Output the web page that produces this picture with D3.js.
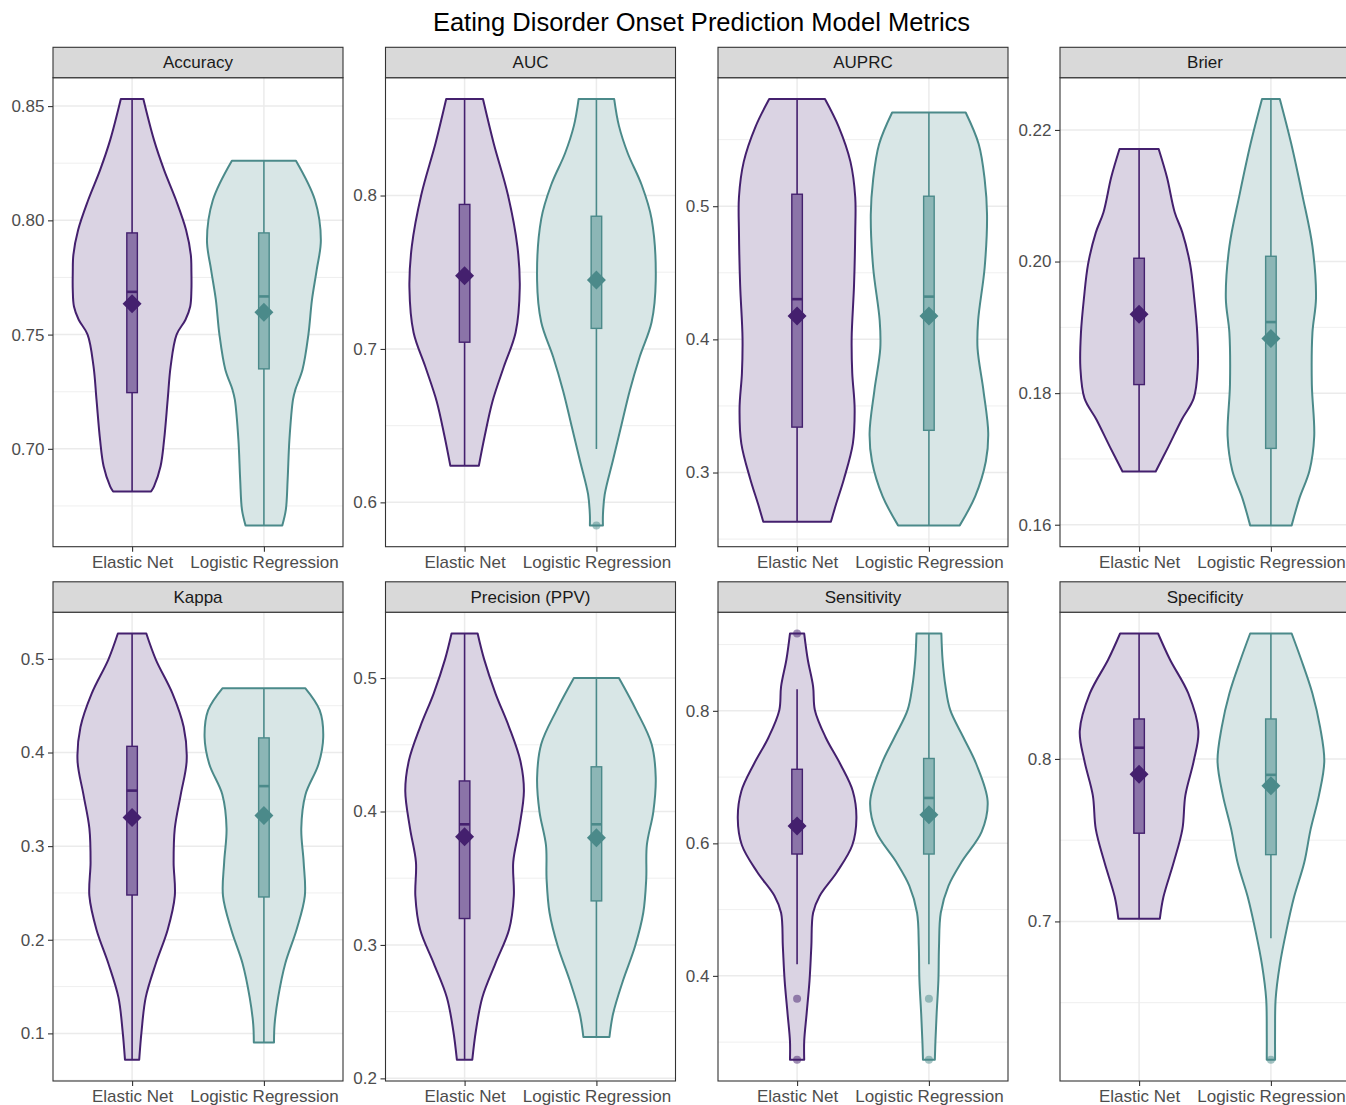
<!DOCTYPE html>
<html>
<head>
<meta charset="utf-8">
<script src="https://cdn.jsdelivr.net/npm/d3@7"></script>
<style>
  html, body { margin: 0; padding: 0; background: #fff; }
  svg { display: block; font-family: "Liberation Sans", Arial, Helvetica, sans-serif; }
</style>
</head>
<body>
<svg id="chart" width="1346" height="1105"></svg>
<script>
// ---------------- DATA ----------------
const metrics = ["Accuracy", "AUC", "AUPRC", "Brier", "Kappa", "Precision (PPV)", "Sensitivity", "Specificity"];
const models = ["Elastic Net", "Logistic Regression"];

const yTicks = [
  [0.70, 0.75, 0.80, 0.85],
  [0.6, 0.7, 0.8],
  [0.3, 0.4, 0.5],
  [0.16, 0.18, 0.20, 0.22],
  [0.1, 0.2, 0.3, 0.4, 0.5],
  [0.2, 0.3, 0.4, 0.5],
  [0.4, 0.6, 0.8],
  [0.7, 0.8]
];
const yTickDecimals = [2, 1, 1, 2, 1, 1, 1, 1];

// violin outlines: [value, relative half-width]
const violinEN = [
  [[0.8531,0.19],[0.8351,0.37],[0.8220,0.54],[0.8089,0.74],[0.7958,0.91],[0.7849,0.99],[0.7774,1.0],[0.7696,1.0],[0.7623,0.98],[0.7565,0.90],[0.75,0.75],[0.7361,0.65],[0.7215,0.60],[0.7040,0.54],[0.6924,0.48],[0.6836,0.37],[0.6813,0.32]],
  [[0.8629,0.31],[0.8341,0.49],[0.8005,0.73],[0.7668,0.89],[0.7399,0.93],[0.7107,0.86],[0.6882,0.66],[0.6658,0.47],[0.6434,0.34],[0.6238,0.24]],
  [[0.5805,0.47],[0.5598,0.70],[0.5333,0.90],[0.5069,0.98],[0.4805,0.98],[0.4408,0.96],[0.4011,0.92],[0.3746,0.93],[0.3482,0.97],[0.3217,0.94],[0.2952,0.79],[0.2767,0.66],[0.2630,0.57]],
  [[0.2171,0.33],[0.2128,0.47],[0.2075,0.60],[0.2044,0.73],[0.1996,0.86],[0.1944,0.93],[0.1892,0.98],[0.1839,0.99],[0.1792,0.92],[0.1760,0.72],[0.1718,0.49],[0.1681,0.28]],
  [[0.5271,0.24],[0.4993,0.40],[0.4632,0.68],[0.4272,0.87],[0.3911,0.92],[0.3550,0.82],[0.3189,0.72],[0.2829,0.70],[0.2468,0.72],[0.2107,0.60],[0.1747,0.40],[0.1385,0.23],[0.1025,0.16],[0.0719,0.12]],
  [[0.5334,0.22],[0.5140,0.33],[0.4886,0.52],[0.4633,0.75],[0.4380,0.94],[0.4153,1.0],[0.3874,0.92],[0.3621,0.82],[0.3367,0.83],[0.3115,0.75],[0.2862,0.52],[0.2608,0.30],[0.2355,0.19],[0.2140,0.13]],
  [[0.9167,0.12],[0.8775,0.18],[0.8367,0.27],[0.8010,0.30],[0.7602,0.48],[0.7194,0.73],[0.6787,0.94],[0.6379,1.0],[0.5971,0.93],[0.5564,0.67],[0.5206,0.38],[0.4953,0.27],[0.4442,0.24],[0.3933,0.21],[0.3424,0.16],[0.3015,0.12],[0.2735,0.12]],
  [[0.8772,0.32],[0.8612,0.52],[0.8403,0.83],[0.8173,1.0],[0.7986,0.92],[0.7776,0.78],[0.7568,0.73],[0.7359,0.58],[0.7150,0.41],[0.7017,0.35]]
];
const violinLR = [
  [[0.8261,0.54],[0.8089,0.86],[0.7914,0.96],[0.7783,0.89],[0.7652,0.81],[0.75,0.75],[0.7346,0.65],[0.7259,0.53],[0.7215,0.49],[0.7040,0.43],[0.6865,0.40],[0.6734,0.37],[0.6665,0.31]],
  [[0.8629,0.30],[0.8454,0.38],[0.8274,0.53],[0.8072,0.76],[0.7848,0.93],[0.7444,1.0],[0.7174,0.93],[0.6949,0.73],[0.6725,0.56],[0.6501,0.42],[0.6276,0.28],[0.6052,0.14],[0.5917,0.11],[0.5850,0.11]],
  [[0.5704,0.62],[0.5466,0.84],[0.5202,0.94],[0.4937,0.98],[0.4540,0.94],[0.4143,0.83],[0.3932,0.82],[0.3614,0.92],[0.3297,1.0],[0.3085,0.96],[0.2821,0.78],[0.2603,0.52]],
  [[0.2247,0.15],[0.2180,0.34],[0.2101,0.53],[0.2023,0.70],[0.1944,0.76],[0.1892,0.70],[0.1813,0.69],[0.1734,0.73],[0.1682,0.65],[0.1640,0.48],[0.1599,0.35]],
  [[0.4686,0.70],[0.4452,0.94],[0.4163,1.0],[0.3874,0.92],[0.3550,0.70],[0.3189,0.63],[0.2829,0.67],[0.2468,0.69],[0.2107,0.55],[0.1747,0.36],[0.1385,0.24],[0.1097,0.18],[0.0903,0.17]],
  [[0.5000,0.38],[0.4760,0.67],[0.4506,0.93],[0.4254,1.0],[0.4000,0.96],[0.3747,0.85],[0.3494,0.84],[0.3241,0.79],[0.2988,0.65],[0.2735,0.45],[0.2482,0.28],[0.2310,0.22]],
  [[0.9167,0.21],[0.8775,0.23],[0.8367,0.28],[0.8010,0.36],[0.7602,0.58],[0.7194,0.80],[0.6635,0.99],[0.6176,0.89],[0.5717,0.55],[0.5359,0.33],[0.4953,0.20],[0.4442,0.17],[0.3933,0.16],[0.3424,0.13],[0.3015,0.11],[0.2735,0.10]],
  [[0.8772,0.35],[0.8612,0.51],[0.8403,0.70],[0.8194,0.83],[0.7986,0.90],[0.7776,0.81],[0.7568,0.67],[0.7359,0.56],[0.7150,0.39],[0.6942,0.26],[0.6733,0.15],[0.6524,0.08],[0.6316,0.07],[0.6149,0.07]]
];

// boxplot stats: [lower whisker, Q1, median, Q3, upper whisker]
const boxEN = [
  [0.6813, 0.7246, 0.7687, 0.7945, 0.8531],
  [0.6238, 0.7044, 0.7480, 0.7942, 0.8629],
  [0.2630, 0.3341, 0.4302, 0.5090, 0.5805],
  [0.1681, 0.1813, 0.1920, 0.2005, 0.2171],
  [0.0719, 0.2478, 0.3593, 0.4066, 0.5271],
  [0.2140, 0.3198, 0.3904, 0.4229, 0.5334],
  [0.4177, 0.5839, 0.6329, 0.7118, 0.8326],
  [0.7017, 0.7543, 0.8069, 0.8246, 0.8772]
];
const boxLR = [
  [0.6665, 0.7350, 0.7667, 0.7945, 0.8261],
  [0.6348, 0.7134, 0.7450, 0.7865, 0.8629],
  [0.2603, 0.3317, 0.4321, 0.5075, 0.5704],
  [0.1599, 0.1716, 0.1908, 0.2008, 0.2247],
  [0.0903, 0.2457, 0.3641, 0.4156, 0.4686],
  [0.2310, 0.3330, 0.3904, 0.4335, 0.5000],
  [0.4177, 0.5839, 0.6685, 0.7281, 0.9167],
  [0.6896, 0.7411, 0.7902, 0.8246, 0.8772]
];
const meanEN = [0.7635, 0.7477, 0.4175, 0.1920, 0.3305, 0.3811, 0.6262, 0.7906];
const meanLR = [0.7598, 0.7450, 0.4175, 0.1883, 0.3327, 0.3803, 0.6430, 0.7835];
const outliersEN = [[], [], [], [], [], [], [0.9167, 0.3653, 0.2735], []];
const outliersLR = [[], [0.5850], [], [], [], [], [0.3653, 0.2735], [0.6149]];

// ---------------- STYLE / LAYOUT ----------------
const lineCol = ["#44206E", "#4B8A8A"];
const fillCol = ["#DAD3E3", "#D8E6E6"];
const boxCol  = ["#8B74A8", "#8CB6B6"];
const ptCol   = ["rgba(68,32,110,0.5)", "rgba(75,138,138,0.5)"];

const panelLeft = [53, 385.5, 718, 1060];
const panelW = 290;
const stripTop = [47.3, 581.8];
const plotTop = [77.7, 612.2];
const plotBottom = [546.7, 1081];

const svg = d3.select("#chart");

svg.append("text")
  .attr("x", 701.5).attr("y", 31)
  .attr("text-anchor", "middle")
  .attr("font-size", 25.5)
  .attr("fill", "#000")
  .text("Eating Disorder Onset Prediction Model Metrics");

const violins = [violinEN, violinLR];
const boxes = [boxEN, boxLR];
const means = [meanEN, meanLR];
const outliers = [outliersEN, outliersLR];

metrics.forEach((m, i) => {
  const row = Math.floor(i / 4), col = i % 4;
  const left = panelLeft[col];
  const top = plotTop[row], bottom = plotBottom[row];
  const g = svg.append("g");

  // y domain: data range expanded by 5%
  const allVals = [];
  [0, 1].forEach(k => {
    violins[k][i].forEach(d => allVals.push(d[0]));
    outliers[k][i].forEach(v => allVals.push(v));
  });
  const lo = d3.min(allVals), hi = d3.max(allVals), r = hi - lo;
  const y = d3.scaleLinear().domain([lo - 0.05 * r, hi + 0.05 * r]).range([bottom, top]);
  const x = d3.scalePoint().domain(models).range([left, left + panelW]).padding(0.6);
  const step = x.step();
  const halfMax = 0.45 * step;
  const boxHalf = 0.04 * step;

  // background
  g.append("rect").attr("x", left).attr("y", top).attr("width", panelW).attr("height", bottom - top).attr("fill", "#fff");

  // minor grid
  const ticks = yTicks[i];
  const tStep = ticks[1] - ticks[0];
  const minors = [];
  for (let t = ticks[0] - tStep; t <= ticks[ticks.length - 1] + tStep * 0.51; t += tStep) {
    const mv = t + tStep / 2;
    const [d0, d1] = y.domain();
    if (mv > d0 && mv < d1) minors.push(mv);
  }
  g.selectAll(".minor").data(minors).enter().append("line")
    .attr("x1", left).attr("x2", left + panelW)
    .attr("y1", d => y(d)).attr("y2", d => y(d))
    .attr("stroke", "#EBEBEB").attr("stroke-width", 0.8);
  // major grid
  g.selectAll(".major").data(ticks).enter().append("line")
    .attr("x1", left).attr("x2", left + panelW)
    .attr("y1", d => y(d)).attr("y2", d => y(d))
    .attr("stroke", "#EBEBEB").attr("stroke-width", 1.5);
  g.selectAll(".xmajor").data(models).enter().append("line")
    .attr("x1", d => x(d)).attr("x2", d => x(d))
    .attr("y1", top).attr("y2", bottom)
    .attr("stroke", "#EBEBEB").attr("stroke-width", 1.5);

  models.forEach((model, k) => {
    const cx = x(model);
    const prof = violins[k][i];
    const area = d3.area()
      .y(d => y(d[0]))
      .x0(d => cx - d[1] * halfMax)
      .x1(d => cx + d[1] * halfMax)
      .curve(d3.curveCatmullRom.alpha(0.5));
    g.append("path").attr("d", area(prof))
      .attr("fill", fillCol[k]).attr("stroke", lineCol[k]).attr("stroke-width", 2)
      .attr("stroke-linejoin", "round");

    const b = boxes[k][i];
    // whiskers
    g.append("line").attr("x1", cx).attr("x2", cx).attr("y1", y(b[3])).attr("y2", y(b[4]))
      .attr("stroke", lineCol[k]).attr("stroke-width", 1.6);
    g.append("line").attr("x1", cx).attr("x2", cx).attr("y1", y(b[1])).attr("y2", y(b[0]))
      .attr("stroke", lineCol[k]).attr("stroke-width", 1.6);
    // box
    g.append("rect").attr("x", cx - boxHalf).attr("width", 2 * boxHalf)
      .attr("y", y(b[3])).attr("height", y(b[1]) - y(b[3]))
      .attr("fill", boxCol[k]).attr("stroke", lineCol[k]).attr("stroke-width", 1.4);
    // median
    g.append("line").attr("x1", cx - boxHalf).attr("x2", cx + boxHalf)
      .attr("y1", y(b[2])).attr("y2", y(b[2]))
      .attr("stroke", lineCol[k]).attr("stroke-width", 2.6);
    // outliers
    g.selectAll(null).data(outliers[k][i]).enter().append("circle")
      .attr("cx", cx).attr("cy", d => y(d)).attr("r", 4)
      .attr("fill", ptCol[k]).attr("stroke", "none");
    // mean diamond
    const my = y(means[k][i]), dd = 9.5;
    g.append("path")
      .attr("d", `M${cx},${my - dd}L${cx + dd},${my}L${cx},${my + dd}L${cx - dd},${my}Z`)
      .attr("fill", lineCol[k]);
  });

  // panel border
  g.append("rect").attr("x", left).attr("y", top).attr("width", panelW).attr("height", bottom - top)
    .attr("fill", "none").attr("stroke", "#333333").attr("stroke-width", 1.1);

  // strip
  g.append("rect").attr("x", left).attr("y", stripTop[row]).attr("width", panelW).attr("height", top - stripTop[row])
    .attr("fill", "#D9D9D9").attr("stroke", "#333333").attr("stroke-width", 1.1);
  g.append("text").attr("x", left + panelW / 2).attr("y", (stripTop[row] + top) / 2)
    .attr("text-anchor", "middle").attr("dominant-baseline", "central")
    .attr("font-size", 17).attr("fill", "#1A1A1A").text(m);

  // y axis
  const fmt = d3.format("." + yTickDecimals[i] + "f");
  const yAxis = d3.axisLeft(y).tickValues(ticks).tickFormat(fmt).tickSize(5).tickPadding(3.5);
  const ya = g.append("g").attr("transform", `translate(${left},0)`).call(yAxis);
  ya.select(".domain").remove();
  ya.selectAll(".tick line").attr("stroke", "#333333").attr("stroke-width", 1.1);
  ya.selectAll(".tick text").attr("font-size", 17).attr("fill", "#4D4D4D")
    .attr("font-family", "'Liberation Sans', Arial, sans-serif");

  // x axis
  const xAxis = d3.axisBottom(x).tickSize(5).tickPadding(4);
  const xa = g.append("g").attr("transform", `translate(0,${bottom})`).call(xAxis);
  xa.select(".domain").remove();
  xa.selectAll(".tick line").attr("stroke", "#333333").attr("stroke-width", 1.1);
  xa.selectAll(".tick text").attr("font-size", 17).attr("fill", "#4D4D4D")
    .attr("font-family", "'Liberation Sans', Arial, sans-serif");
});
</script>
</body>
</html>
